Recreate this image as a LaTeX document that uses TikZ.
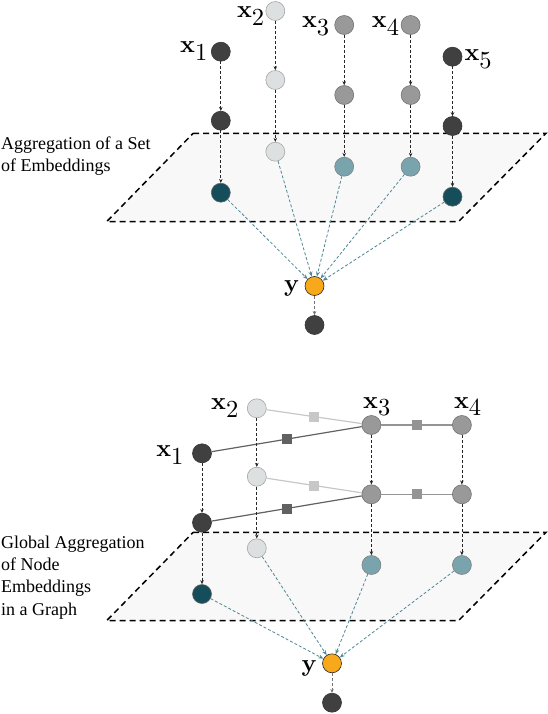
\documentclass[tikz,border=0pt]{standalone}
\usepackage{amsmath}
\usepackage[no-math]{fontspec}
\setmainfont{Liberation Serif}
\usetikzlibrary{arrows.meta}

\definecolor{nodedark}{HTML}{404040}
\definecolor{nodelight}{HTML}{DDE0E0}
\definecolor{nodemid}{HTML}{999999}
\definecolor{tealdark}{HTML}{154D5A}
\definecolor{teallight}{HTML}{7AA4AD}
\definecolor{outorange}{HTML}{F7A81B}
\definecolor{arrowteal}{HTML}{4F8794}
\definecolor{planefill}{HTML}{F8F8F8}

\tikzset{
  emb/.style={circle, minimum size=19pt, inner sep=0pt, line width=0.6pt},
  embdark/.style={emb, fill=nodedark, draw=nodedark!85!black},
  emblight/.style={emb, fill=nodelight, draw=black!35},
  embmid/.style={emb, fill=nodemid, draw=black!55},
  embteal/.style={emb, fill=tealdark, draw=black!60},
  embtealmid/.style={emb, fill=teallight, draw=black!50},
  embout/.style={emb, fill=outorange, draw=black!85},
  xlabel/.style={inner sep=0pt, scale=2.45, transform shape},
  upd/.style={densely dashed, line width=0.8pt, draw=black!85, -{Stealth[length=4pt,width=3.5pt]}},
  outd/.style={upd, draw=black!55},
  agg/.style={densely dashed, line width=0.8pt, draw=arrowteal, -{Stealth[length=5pt,width=4pt]}},
  plane/.style={fill=planefill, draw=black, line width=1.5pt, dash pattern=on 6pt off 4pt},
  caption/.style={anchor=west, align=left, inner sep=0pt, font=\fontsize{18}{22.3}\selectfont},
  edgedark/.style={draw=black!62, line width=1.2pt},
  edgelight/.style={draw=black!22, line width=1.2pt},
  edgemid/.style={draw=black!42, line width=1.2pt},
  sq/.style={rectangle, minimum size=10pt, inner sep=0pt},
}
\newcommand{\embx}[1]{$\mathbf{x}_{\textstyle #1}$}

\begin{document}
\begin{tikzpicture}[x=1pt, y=-1pt]
  \useasboundingbox (0,0) rectangle (548,714);

  % set of embeddings
  \path[plane] (193.2,133.3) -- (546,133.3) -- (458.4,221.7) -- (106.6,221.7) -- cycle;
  \node[caption] (scap) at (1,156) {Aggregation of a Set\\of Embeddings};

  \node[embdark] (s1a) at (220.8,51.7) {};
  \node[embdark] (s1b) at (220.8,120.7) {};
  \node[embteal] (s1c) at (220.8,192.7) {};
  \node[emblight] (s2a) at (275.3,11) {};
  \node[emblight] (s2b) at (275.3,80) {};
  \node[emblight] (s2c) at (275.3,151.7) {};
  \node[embmid] (s3a) at (344.2,25) {};
  \node[embmid] (s3b) at (344.2,95) {};
  \node[embtealmid] (s3c) at (344.2,166.7) {};
  \node[embmid] (s4a) at (410.6,25) {};
  \node[embmid] (s4b) at (410.6,95) {};
  \node[embtealmid] (s4c) at (410.6,166.7) {};
  \node[embdark] (s5a) at (452.5,56.7) {};
  \node[embdark] (s5b) at (452.5,126) {};
  \node[embteal] (s5c) at (452.5,196.7) {};
  \node[embout] (sy) at (314.5,286) {};
  \node[embdark] (so) at (314.5,325) {};

  \node[xlabel] (ls1) at (194.4,51) {\embx{1}};
  \node[xlabel] (ls2) at (251.2,16) {\embx{2}};
  \node[xlabel] (ls3) at (316.2,26) {\embx{3}};
  \node[xlabel] (ls4) at (386.1,26) {\embx{4}};
  \node[xlabel] (ls5) at (478.7,59) {\embx{5}};
  \node[xlabel] (lsy) at (291.8,288) {$\mathbf{y}$};

  \draw[upd] (s1a) -- (s1b);
  \draw[upd] (s1b) -- (s1c);
  \draw[upd] (s2a) -- (s2b);
  \draw[upd] (s2b) -- (s2c);
  \draw[upd] (s3a) -- (s3b);
  \draw[upd] (s3b) -- (s3c);
  \draw[upd] (s4a) -- (s4b);
  \draw[upd] (s4b) -- (s4c);
  \draw[upd] (s5a) -- (s5b);
  \draw[upd] (s5b) -- (s5c);
  \draw[agg] (s1c) -- (sy);
  \draw[agg] (s2c) -- (sy);
  \draw[agg] (s3c) -- (sy);
  \draw[agg] (s4c) -- (sy);
  \draw[agg] (s5c) -- (sy);
  \draw[outd] (sy) -- (so);

  % node embeddings in a graph
  \path[plane] (193.2,532.3) -- (546,532.3) -- (458.4,620.7) -- (106.6,620.7) -- cycle;
  \node[caption] (gcap) at (1,577.5) {Global Aggregation\\of Node\\Embeddings\\in a Graph};

  \node[embdark] (g1a) at (202,453.3) {};
  \node[embdark] (g1b) at (202,522.7) {};
  \node[embteal] (g1c) at (202,594) {};
  \node[emblight] (g2a) at (256.8,408.3) {};
  \node[emblight] (g2b) at (256.8,476.7) {};
  \node[emblight] (g2c) at (256.8,548.3) {};
  \node[embmid] (g3a) at (371.4,425) {};
  \node[embmid] (g3b) at (371.4,494.3) {};
  \node[embtealmid] (g3c) at (371.4,565) {};
  \node[embmid] (g4a) at (461.9,425) {};
  \node[embmid] (g4b) at (461.9,494.3) {};
  \node[embtealmid] (g4c) at (461.9,565) {};
  \node[embout] (gy) at (332,663.3) {};
  \node[embdark] (go) at (332,702.7) {};

  \node[xlabel] (lg1) at (170.5,455) {\embx{1}};
  \node[xlabel] (lg2) at (225.4,408) {\embx{2}};
  \node[xlabel] (lg3) at (377.4,406.7) {\embx{3}};
  \node[xlabel] (lg4) at (468.2,406.7) {\embx{4}};
  \node[xlabel] (lgy) at (309.2,668) {$\mathbf{y}$};

  \draw[edgedark] (g1a) -- node[sq, fill=black!62] (e13a) {} (g3a);
  \draw[edgelight] (g2a) -- node[sq, fill=black!22] (e23a) {} (g3a);
  \draw[edgemid] (g3a) -- node[sq, fill=black!42] (e34a) {} (g4a);
  \draw[edgedark] (g1b) -- node[sq, fill=black!62] (e13b) {} (g3b);
  \draw[edgelight] (g2b) -- node[sq, fill=black!22] (e23b) {} (g3b);
  \draw[edgemid] (g3b) -- node[sq, fill=black!42] (e34b) {} (g4b);

  \draw[upd] (g1a) -- (g1b);
  \draw[upd] (g1b) -- (g1c);
  \draw[upd] (g2a) -- (g2b);
  \draw[upd] (g2b) -- (g2c);
  \draw[upd] (g3a) -- (g3b);
  \draw[upd] (g3b) -- (g3c);
  \draw[upd] (g4a) -- (g4b);
  \draw[upd] (g4b) -- (g4c);
  \draw[agg] (g1c) -- (gy);
  \draw[agg] (g2c) -- (gy);
  \draw[agg] (g3c) -- (gy);
  \draw[agg] (g4c) -- (gy);
  \draw[outd] (gy) -- (go);
\end{tikzpicture}
\end{document}
